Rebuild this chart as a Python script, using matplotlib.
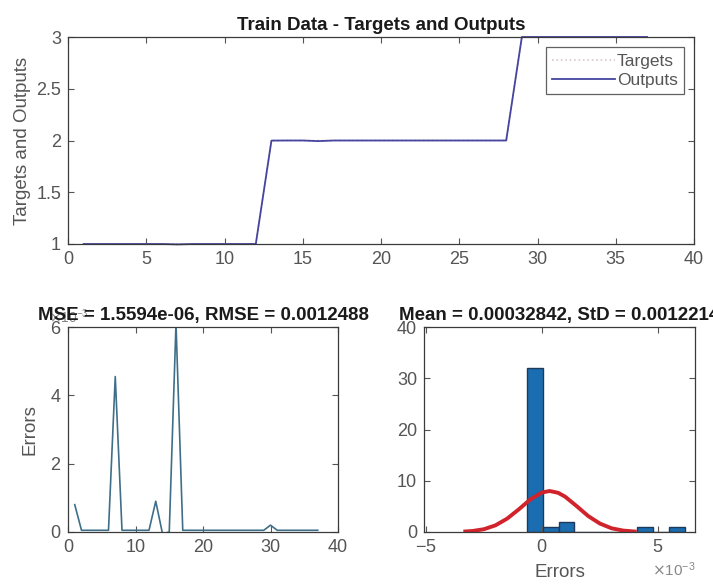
import matplotlib.pyplot as plt
import numpy as np
from matplotlib.ticker import ScalarFormatter

plt.rcParams['font.family'] = ['Liberation Sans', 'DejaVu Sans']
plt.rcParams['axes.unicode_minus'] = False

# sample index (1..37)
idx = list(range(1, 38))
targets = [1]*12 + [2]*16 + [3]*9
outputs = [1.0, 1.0, 1.0, 1.0, 1.0, 1.0, 0.996, 1.0, 1.0, 1.0, 1.0, 1.0,
           1.999, 2.0, 2.0, 1.994, 2.0, 2.0, 2.0, 2.0, 2.0, 2.0, 2.0, 2.0,
           2.0, 2.0, 2.0, 2.0,
           3.0, 3.0, 3.0, 3.0, 3.0, 3.0, 3.0, 3.0, 3.0]

# errors, in units of 1e-3
errors = [0.8, 0.05, 0.05, 0.05, 0.05, 0.05, 4.55, 0.05, 0.05, 0.05, 0.05, 0.05,
          0.9, -0.05, 0.0, 6.1, 0.05, 0.05, 0.05, 0.05, 0.05, 0.05, 0.05, 0.05,
          0.05, 0.05, 0.05, 0.05, 0.05, 0.2, 0.05, 0.05, 0.05, 0.05, 0.05, 0.05, 0.05]

# error histogram (bin centres in 1e-3 units)
bin_centers = [-0.30, 0.38, 1.06, 1.74, 2.42, 3.10, 3.78, 4.46, 5.14, 5.82]
bin_counts = [32, 1, 2, 0, 0, 0, 0, 1, 0, 1]
# fitted normal curve
fit_x = [-3.3, -3.0, -2.5, -2.0, -1.5, -1.0, -0.5, 0.0, 0.33, 0.7, 1.0, 1.5, 2.0, 2.5, 3.0, 3.5, 4.0]
fit_y = [0.1, 0.19, 0.54, 1.3, 2.6, 4.4, 6.35, 7.7, 8.0, 7.65, 6.9, 5.05, 3.1, 1.65, 0.73, 0.28, 0.09]

W, H = 713, 586
fig = plt.figure(figsize=(W/100, H/100), dpi=100)
ax1 = fig.add_axes([68/W, (H-244)/H, 626/W, 207/H])
ax2 = fig.add_axes([68/W, (H-532)/H, 270/W, 205/H])
ax3 = fig.add_axes([424/W, (H-532)/H, 271/W, 205/H])

tick_col = '#555555'
for ax in (ax1, ax2, ax3):
    ax.tick_params(direction='in', top=True, right=True, length=4, width=0.8,
                   labelsize=13, colors=tick_col, pad=5)
    for s in ax.spines.values():
        s.set_color('#3a3a3a')
        s.set_linewidth(0.9)

# top: targets and outputs
ax1.plot(idx, targets, ls=':', color='#d9c4cf', lw=1.2, label='Targets', clip_on=False)
ax1.plot(idx, outputs, color='#4545a0', lw=1.3, label='Outputs', clip_on=False)
ax1.set_xlim(0, 40)
ax1.set_ylim(1, 3)
ax1.set_xticks(range(0, 41, 5))
ax1.set_yticks([1, 1.5, 2, 2.5, 3])
ax1.set_yticklabels(['1', '1.5', '2', '2.5', '3'])
ax1.set_ylabel('Targets and Outputs', fontsize=13.5, color=tick_col, labelpad=4)
ax1.set_title('Train Data - Targets and Outputs', fontsize=13.5, fontweight='bold',
              color='#1a1a1a', pad=5)
leg = ax1.legend(loc='upper right', fontsize=12.5, frameon=True, fancybox=False,
                 handlelength=3.6, handletextpad=0.1, borderpad=0.35,
                 labelspacing=0.25, borderaxespad=0.6)
leg.get_frame().set_edgecolor('#3a3a3a')
leg.get_frame().set_linewidth(0.9)
for t in leg.get_texts():
    t.set_color(tick_col)

# bottom left: errors
ax2.plot(idx, np.array(errors)*1e-3, color='#3f6f88', lw=1.2)
ax2.set_xlim(0, 40)
ax2.set_ylim(0, 6e-3)
ax2.set_xticks([0, 10, 20, 30, 40])
ax2.set_yticks(np.array([0, 2, 4, 6])*1e-3)
fmt = ScalarFormatter(useMathText=True)
fmt.set_powerlimits((-2, 2))
ax2.yaxis.set_major_formatter(fmt)
ax2.yaxis.get_offset_text().set_fontsize(10)
ax2.yaxis.get_offset_text().set_color('#888888')
ax2.yaxis.get_offset_text().set_x(-0.07)
ax2.set_ylabel('Errors', fontsize=13.5, color=tick_col, labelpad=8)
ax2.set_title('MSE = 1.5594e-06, RMSE = 0.0012488', fontsize=13.5, fontweight='bold',
              color='#1a1a1a', pad=5, y=1.0)

# bottom right: error histogram
ax3.bar(np.array(bin_centers)*1e-3, bin_counts, width=0.68e-3, color='#1a6db0',
        edgecolor='#1d3a5a', linewidth=1.0)
ax3.plot(np.array(fit_x)*1e-3, fit_y, color='#d0232b', lw=2.8)
ax3.set_xlim(-5.08e-3, 6.6e-3)
ax3.set_ylim(0, 40)
ax3.set_xticks(np.array([-5, 0, 5])*1e-3)
ax3.set_yticks([0, 10, 20, 30, 40])
fmt3 = ScalarFormatter(useMathText=True)
fmt3.set_powerlimits((-2, 2))
ax3.xaxis.set_major_formatter(fmt3)
ax3.xaxis.get_offset_text().set_fontsize(11)
ax3.xaxis.get_offset_text().set_color('#888888')
ax3.set_xlabel('Errors', fontsize=13.5, color=tick_col, labelpad=6)
ax3.set_title('Mean = 0.00032842, StD = 0.0012214', fontsize=13.5, fontweight='bold',
              color='#1a1a1a', pad=5, y=1.0)

fig.savefig('out.png', dpi=100)
